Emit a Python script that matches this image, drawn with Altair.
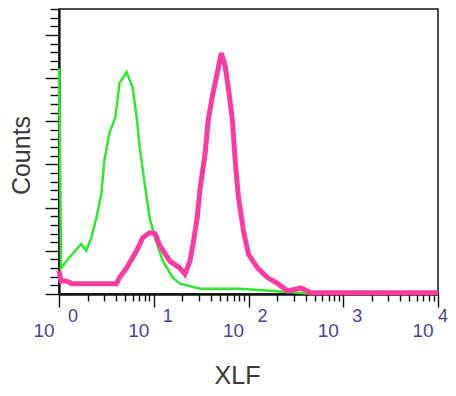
import altair as alt
import pandas as pd

# Green (control) histogram
green_x = [1.00, 1.03, 1.05, 1.28, 1.71, 1.94, 2.19, 2.48, 2.80, 3.01, 3.40, 3.94, 4.35,
           5.16, 5.98, 6.59, 7.10, 8.02, 9.06, 10.3, 12.5, 15.9, 18.9, 30.9, 82, 185, 400, 10000]
green_y = [261, 149, 30, 42, 58, 50, 65, 88, 116, 155, 186, 205, 244,
           257, 239, 205, 170, 128, 88, 65, 38, 19, 12, 6, 6, 3.5, 1, 1]

# Pink (XLF stained) histogram
pink_x = [1.00, 1.05, 1.19, 1.37, 4.04, 4.35, 5.16, 6.59, 7.64, 9.06, 10.3, 11.6, 14.8,
          18.9, 21.3, 24.1, 26.0, 28.7, 30.9, 34.9, 37.5, 41.4, 46.8, 51.6, 56.9, 61.2,
          67.6, 72.8, 78.3, 88.5, 100, 125, 159, 204, 260, 357, 457, 10000]
pink_y = [27, 15, 15, 12, 12, 19, 30, 50, 65, 71, 70, 56, 38,
          30, 23, 38, 58, 88, 123, 163, 201, 228, 256, 279, 263, 239,
          201, 151, 112, 73, 46, 30, 19, 12, 3.5, 7, 1.5, 1.5]

decades = [1, 10, 100, 1000, 10000]
exponents = ["0", "1", "2", "3", "4"]
x_minor = [m * 10 ** k for k in range(4) for m in range(2, 10)]
y_minor = [v for v in range(0, 331, 10) if v % 50 != 0]
y_major = list(range(0, 301, 50))

green_df = pd.DataFrame({"x": green_x, "y": green_y})
pink_df = pd.DataFrame({"x": pink_x, "y": pink_y})
lab_df = pd.DataFrame({"x": decades, "base": ["10"] * 5, "exp": exponents})
exp_df_inner = lab_df.iloc[:-1]
exp_df_last = lab_df.iloc[-1:]

xscale = alt.Scale(type="log", domain=[1, 10000], nice=False)
yscale = alt.Scale(domain=[0, 330], nice=False, zero=True)

title_style = dict(titleFontSize=25, titleFont="Liberation Sans", titleFontWeight="normal",
                   titleColor="#3a3a3a")

x_minor_axis = alt.Axis(
    orient="bottom", title="XLF", values=x_minor, labels=False, grid=False, tickSize=7,
    titleX=178, titleY=89, titleBaseline="alphabetic", titleAlign="center", **title_style,
)
x_major_axis = alt.Axis(
    orient="bottom", values=decades, labels=False, grid=False, tickSize=13,
    title=" ", domain=True,
)
y_minor_axis = alt.Axis(
    orient="left", title="Counts", values=y_minor, labels=False, grid=False, tickSize=9,
    titleX=-30, titleY=146, titleAngle=-90, titleBaseline="alphabetic", titleAlign="center",
    **title_style,
)
y_major_axis = alt.Axis(
    orient="left", values=y_major, labels=False, grid=False, tickSize=14,
    title=" ", domain=True,
)

green = alt.Chart(green_df).mark_line(color="#33e633", strokeWidth=2.5).encode(
    x=alt.X("x:Q", scale=xscale, axis=x_minor_axis),
    y=alt.Y("y:Q", scale=yscale, axis=y_minor_axis),
    order=alt.Order("idx:Q"),
).transform_window(idx="row_number()")

pink = alt.Chart(pink_df).mark_line(color="#ff3aa0", strokeWidth=5, strokeJoin="miter").encode(
    x=alt.X("x:Q", scale=xscale, axis=x_major_axis),
    y=alt.Y("y:Q", scale=yscale, axis=y_major_axis),
    order=alt.Order("idx:Q"),
).transform_window(idx="row_number()")

base_lab = alt.Chart(lab_df).mark_text(
    font="Liberation Sans", fontSize=19, color="#4f3f8f", dx=-15, align="center", baseline="alphabetic"
).encode(x=alt.X("x:Q", scale=xscale, axis=None), y=alt.value(328), text="base:N")

exp_lab = alt.Chart(exp_df_inner).mark_text(
    font="Liberation Sans", fontSize=18, color="#4f3f8f", dx=14, align="center", baseline="alphabetic"
).encode(x=alt.X("x:Q", scale=xscale, axis=None), y=alt.value(313), text="exp:N")

exp_last = alt.Chart(exp_df_last).mark_text(
    font="Liberation Sans", fontSize=18, color="#4f3f8f", dx=5, align="center", baseline="alphabetic"
).encode(x=alt.X("x:Q", scale=xscale, axis=None), y=alt.value(313), text="exp:N")

chart = alt.layer(green, pink, base_lab, exp_lab, exp_last).resolve_axis(
    x="independent", y="independent"
).properties(
    width=379, height=285,
    autosize=alt.AutoSizeParams(type="none"),
    padding={"left": 51, "top": 1, "right": 10, "bottom": 94},
    background="white",
).configure_view(
    stroke="#111", strokeWidth=1.5
).configure_axis(
    domainColor="#111", domainWidth=1.8, tickColor="#111", tickWidth=1.4
)

chart.save("out.html", embed_options={"renderer": "svg", "actions": False})
